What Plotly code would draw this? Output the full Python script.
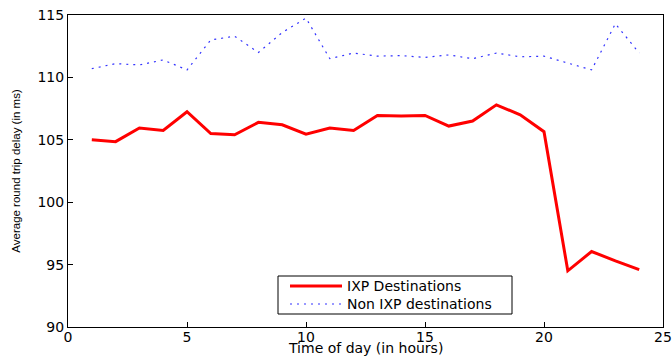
import plotly.graph_objects as go

hours = list(range(1, 25))
ixp = [105.0, 104.85, 105.95, 105.75, 107.25, 105.5, 105.4, 106.4, 106.2, 105.45,
       105.95, 105.75, 106.95, 106.9, 106.95, 106.1, 106.5, 107.8, 107.0, 105.65,
       94.5, 96.05, 95.3, 94.6]
non_ixp = [110.7, 111.1, 111.0, 111.4, 110.6, 113.0, 113.3, 112.0, 113.6, 114.75,
           111.5, 111.95, 111.7, 111.75, 111.6, 111.8, 111.5, 111.95, 111.65, 111.7,
           111.15, 110.6, 114.3, 111.95]
series_names = ["IXP Destinations", "Non IXP destinations"]

x_ticks = [0, 5, 10, 15, 20, 25]
y_ticks = [90, 95, 100, 105, 110, 115]

wide = "DejaVu Sans, Verdana, sans-serif"
narrow = "Liberation Sans, Arial, sans-serif"

W, H = 672, 356
L, R, T, B = 68, 9, 15, 29
pw, ph = W - L - R, H - T - B


def px(xp):
    return (xp - L) / pw


def py(yp):
    return (H - B - yp) / ph


styles = [dict(color="#FF0000", width=3), dict(color="#3333FF", width=1.2, dash="2px,5px")]

fig = go.Figure()
fig.add_trace(go.Scatter(x=hours, y=ixp, mode="lines", name=series_names[0], line=styles[0]))
fig.add_trace(go.Scatter(x=hours, y=non_ixp, mode="lines", name=series_names[1], line=styles[1]))

axis_common = dict(showline=True, linecolor="black", linewidth=1, mirror=True,
                   ticks="inside", ticklen=5, tickcolor="black", showgrid=False,
                   zeroline=False, automargin=False,
                   tickfont=dict(family=wide, size=14, color="black"))

# legend box drawn manually (to match the compact MATLAB legend)
shapes = [dict(type="rect", xref="paper", yref="paper", x0=px(278), x1=px(512),
               y0=py(314), y1=py(276), line=dict(color="black", width=1), fillcolor="white",
               layer="above")]
annotations = []
rows_y = [286, 304]
for name, st, ry in zip(series_names, styles, rows_y):
    shapes.append(dict(type="line", xref="paper", yref="paper", x0=px(290), x1=px(342),
                       y0=py(ry), y1=py(ry), line=st, layer="above"))
    annotations.append(dict(text=name, xref="paper", yref="paper", x=px(346), y=py(ry),
                            xanchor="left", yanchor="middle", showarrow=False, borderpad=0,
                            font=dict(family=wide, size=14, color="black")))

annotations.append(dict(text="Time of day (in hours)", xref="paper", yref="paper",
                        x=0.5, y=py(357), xanchor="center", yanchor="bottom", showarrow=False,
                        borderpad=0, font=dict(family=wide, size=14, color="black")))

fig.update_layout(
    width=W, height=H,
    margin=dict(l=L, r=R, t=T, b=B),
    paper_bgcolor="white", plot_bgcolor="white",
    font=dict(family=wide, color="black"),
    xaxis=dict(range=[0, 25], tickvals=x_ticks, ticklabelstandoff=-3, **axis_common),
    yaxis=dict(range=[90, 115], tickvals=y_ticks,
               title=dict(text="Average round trip delay (in ms)",
                          font=dict(family=narrow, size=11.5), standoff=14),
               **axis_common),
    shapes=shapes,
    annotations=annotations,
    showlegend=False,
)

fig.write_html("out.html")
